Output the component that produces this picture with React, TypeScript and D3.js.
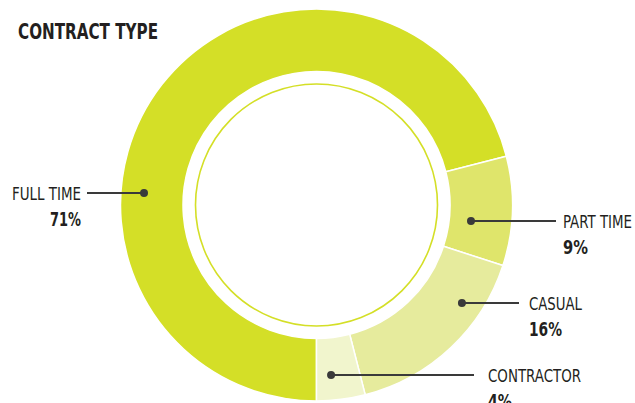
import React from "react";
import * as d3 from "d3";

const categories = ["FULL TIME", "PART TIME", "CASUAL", "CONTRACTOR"];
const values = [71, 9, 16, 4];
const valueLabels = ["71%", "9%", "16%", "4%"];
const colors = ["#d4df27", "#dfe56b", "#e6eb9d", "#f1f5cd"];

// annotation layout (dot anchor in polar coords, label side)
const labelAngleDeg = [274, 95.9, 124, 175.1];
const labelRadius = [172.9, 155.3, 175.4, 170.6];
const labelLineEnd = [87, 556, 519, 474];
const labelTextX = [81, 563, 529, 488];
const labelAnchor = ["end", "start", "start", "start"];
const nameWidths = [69, 69, 53, 93];
const pctWidths = [31, 25, 33, 24];

const W = 635;
const H = 403;
const cx = 316.5;
const cy = 205;
const rOuter = 196;
const rInner = 133.5;
const rRing = 121;

export default function App() {
  const pie = d3
    .pie<number>()
    .sort(null)
    .startAngle(Math.PI)
    .endAngle(3 * Math.PI)
    .value((d) => d);
  const arcs = pie(values);
  const arc = d3.arc<d3.PieArcDatum<number>>().innerRadius(rInner).outerRadius(rOuter);

  const font = "'Liberation Sans Narrow', 'DejaVu Sans Condensed', 'Roboto', sans-serif";

  return (
    <svg
      width={W}
      height={H}
      viewBox={`0 0 ${W} ${H}`}
      style={{ position: "absolute", left: 0, top: 0, background: "#fff" }}
    >
      <text
        x={18}
        y={39}
        fontFamily={font}
        fontWeight={700}
        fontSize={21}
        fill="#231f20"
        textLength={140}
        lengthAdjust="spacingAndGlyphs"
      >
        CONTRACT TYPE
      </text>
      <g transform={`translate(${cx},${cy})`}>
        {arcs.map((a, i) => (
          <path key={i} d={arc(a) || ""} fill={colors[i]} stroke="#fff" strokeWidth={1.5} />
        ))}
        <circle r={rRing} fill="none" stroke="#d4df27" strokeWidth={1.6} />
      </g>
      {categories.map((c, i) => {
        const t = (labelAngleDeg[i] * Math.PI) / 180;
        const dx = cx + labelRadius[i] * Math.sin(t);
        const dy = cy - labelRadius[i] * Math.cos(t);
        const tx = labelTextX[i];
        const anchor = labelAnchor[i];
        return (
          <g key={c}>
            <line x1={dx} y1={dy} x2={labelLineEnd[i]} y2={dy} stroke="#3a3a3a" strokeWidth={2} />
            <circle cx={dx} cy={dy} r={4} fill="#3a3a3a" />
            <text
              x={tx}
              y={dy + 7}
              textAnchor={anchor}
              fontFamily={font}
              fontSize={18}
              fill="#231f20"
              textLength={nameWidths[i]}
              lengthAdjust="spacingAndGlyphs"
            >
              {c}
            </text>
            <text
              x={tx}
              y={dy + 33}
              textAnchor={anchor}
              fontFamily={font}
              fontWeight={700}
              fontSize={19}
              fill="#231f20"
              textLength={pctWidths[i]}
              lengthAdjust="spacingAndGlyphs"
            >
              {valueLabels[i]}
            </text>
          </g>
        );
      })}
    </svg>
  );
}
